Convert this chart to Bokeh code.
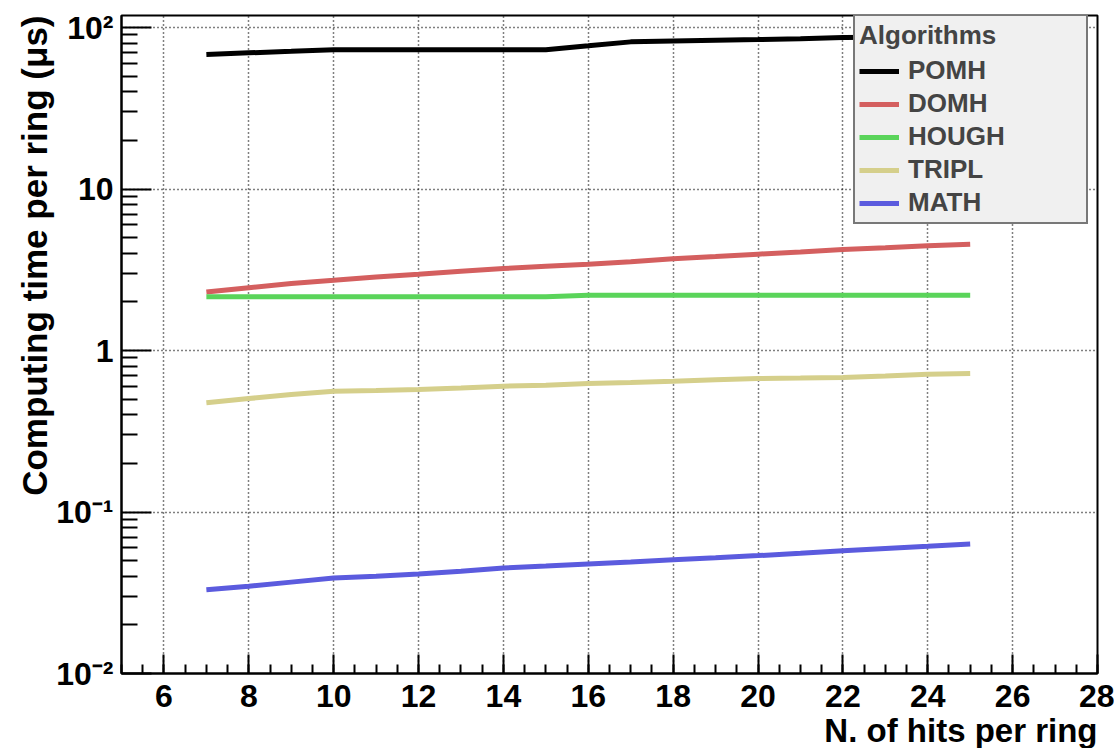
from bokeh.plotting import figure
from bokeh.models import FixedTicker, CustomJSTickFormatter, Legend, LegendItem, Title
from bokeh.embed import file_html
from bokeh.resources import INLINE

# ---------------- data ----------------
hits = [7, 8, 9, 10, 11, 12, 13, 14, 15, 16, 17, 18, 19, 20, 21, 22, 23, 24, 25]
pomh = [68, 69.7, 71.2, 72.8, 72.8, 72.8, 72.8, 72.8, 72.8, 77, 81.5, 82.5, 83.5,
        84.3, 85.3, 86.8, 87.2, 87.5, 88]
domh = [2.3, 2.45, 2.6, 2.72, 2.85, 2.97, 3.1, 3.22, 3.32, 3.42, 3.55, 3.7, 3.82,
        3.95, 4.08, 4.22, 4.33, 4.45, 4.55]
hough = [2.15, 2.15, 2.15, 2.15, 2.15, 2.15, 2.15, 2.15, 2.15, 2.2, 2.2, 2.2, 2.2,
         2.2, 2.2, 2.2, 2.2, 2.2, 2.2]
tripl = [0.475, 0.504, 0.534, 0.56, 0.565, 0.574, 0.585, 0.601, 0.61, 0.625, 0.633,
         0.645, 0.658, 0.671, 0.675, 0.68, 0.695, 0.713, 0.72]
math_ = [0.033, 0.0347, 0.0368, 0.039, 0.040, 0.0413, 0.043, 0.045, 0.0463, 0.0477,
         0.049, 0.0507, 0.052, 0.0537, 0.0556, 0.0576, 0.0595, 0.0614, 0.0634]

series_names = ["POMH", "DOMH", "HOUGH", "TRIPL", "MATH"]
series_values = [pomh, domh, hough, tripl, math_]
series_colors = ["#000000", "#d45f5f", "#5ad45a", "#d5cf8b", "#5b5bde"]

x_major = [6, 8, 10, 12, 14, 16, 18, 20, 22, 24, 26, 28]
x_minor = [5 + 0.5 * i for i in range(47)]
y_major = [0.01, 0.1, 1, 10, 100]
y_minor = [m * 10.0 ** k for k in range(-2, 2) for m in range(2, 10)]

x_title = "N. of hits per ring"
y_title = "Computing time per ring (\u03bcs)"
legend_title = "Algorithms"

FONT = "Liberation Sans"

# ---------------- figure ----------------
p = figure(width=1114, height=748, x_range=(5, 28), y_range=(0.01, 118.7),
           y_axis_type="log", output_backend="svg", toolbar_location=None,
           min_border_left=121, min_border_right=17, min_border_top=15,
           min_border_bottom=75, background_fill_color="white",
           border_fill_color="white")

p.outline_line_color = "black"
p.outline_line_width = 2

# x axis
xa = p.xaxis[0]
xa.ticker = FixedTicker(ticks=x_major, minor_ticks=x_minor)
xa.major_tick_in = 19
xa.major_tick_out = 0
xa.minor_tick_in = 9
xa.minor_tick_out = 0
xa.axis_line_width = 2
xa.major_tick_line_width = 2
xa.minor_tick_line_width = 2
xa.major_label_text_font = FONT
xa.major_label_text_font_style = "bold"
xa.major_label_text_font_size = "32px"
xa.major_label_text_line_height = 0.8
xa.major_label_text_color = "black"
xa.major_label_standoff = 11

# y axis
ya = p.yaxis[0]
ya.ticker = FixedTicker(ticks=y_major, minor_ticks=y_minor)
ya.formatter = CustomJSTickFormatter(code="""
const e = Math.round(Math.log10(tick));
if (e == 0) return "1";
if (e == 1) return "10";
const sup = {"-2": "\u207b\u00b2", "-1": "\u207b\u00b9", "2": "\u00b2", "3": "\u00b3"};
return "10" + sup[String(e)];
""")
ya.major_tick_in = 30
ya.major_tick_out = 0
ya.minor_tick_in = 16
ya.minor_tick_out = 0
ya.axis_line_width = 2
ya.major_tick_line_width = 2
ya.minor_tick_line_width = 2
ya.major_label_text_font = FONT
ya.major_label_text_font_style = "bold"
ya.major_label_text_font_size = "32px"
ya.major_label_text_color = "black"
ya.major_label_standoff = 8

# grid
for g in (p.xgrid[0], p.ygrid[0]):
    g.grid_line_color = "black"
    g.grid_line_dash = "1 3"
    g.grid_line_width = 1.5

# axis titles (right / top aligned, as in ROOT)
p.add_layout(Title(text=x_title, align="right", text_font=FONT,
                   text_font_style="bold", text_font_size="33px",
                   text_line_height=0.75,
                   text_color="black", standoff=0, offset=0), "below")
p.add_layout(Title(text=y_title, align="right", text_font=FONT,
                   text_font_style="bold", text_font_size="35px",
                   text_color="black", standoff=0, offset=0), "left")

# lines
items = []
for name, vals, col in zip(series_names, series_values, series_colors):
    r = p.line(hits, vals, line_color=col, line_width=5)
    items.append(LegendItem(label=name, renderers=[r]))

legend = Legend(items=items, location=(732, 449), title=legend_title,
                title_text_font=FONT, title_text_font_style="bold",
                title_text_font_size="26px", title_standoff=4,
                label_text_font=FONT, label_text_font_style="bold",
                label_text_font_size="26px", label_height=30, glyph_height=30,
                glyph_width=40, label_standoff=9, label_width=174, spacing=2,
                padding=4, margin=0, background_fill_color="#f0f0f0",
                background_fill_alpha=1.0, border_line_color="black",
                border_line_width=2)
p.add_layout(legend, "center")

open("out.html", "w").write(file_html(p, INLINE))
